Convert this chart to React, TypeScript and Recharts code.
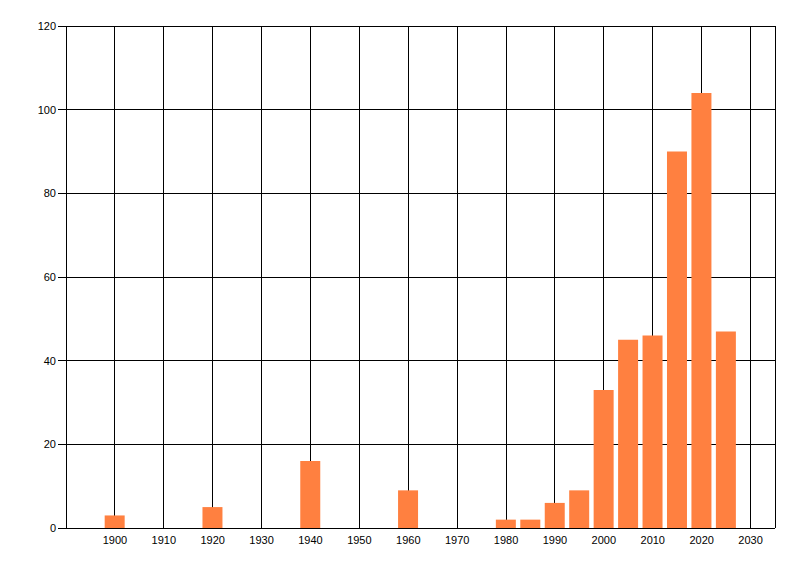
import React from "react";
import { BarChart, Bar, XAxis, YAxis, CartesianGrid } from "recharts";

const years = [1900, 1920, 1940, 1960, 1980, 1985, 1990, 1995, 2000, 2005, 2010, 2015, 2020, 2025];
const counts = [3, 5, 16, 9, 2, 2, 6, 9, 33, 45, 46, 90, 104, 47];
const xTicks = [1900, 1910, 1920, 1930, 1940, 1950, 1960, 1970, 1980, 1990, 2000, 2010, 2020, 2030];
const yTicks = [0, 20, 40, 60, 80, 100, 120];

const data = years.map((y, i) => ({ year: y, count: counts[i] }));

const tickStyle = { fontFamily: "'Liberation Sans', Arial, sans-serif", fontSize: 11, fill: "#000" };

export default function App() {
  return (
    <div style={{ position: "absolute", left: 0, top: 0, width: 800, height: 576, background: "#fff" }}>
      <BarChart
        width={800}
        height={576}
        data={data}
        margin={{ top: 26, right: 25, bottom: 18, left: 0 }}
      >
        <CartesianGrid stroke="#000" strokeWidth={1} shapeRendering="crispEdges" />
        <XAxis
          dataKey="year"
          type="number"
          domain={[1890, 2035]}
          ticks={xTicks}
          interval={0}
          allowDataOverflow
          height={30}
          tickLine={false}
          tickSize={6}
          tickMargin={2}
          axisLine={{ stroke: "#000", shapeRendering: "crispEdges" }}
          tick={tickStyle}
        />
        <YAxis
          type="number"
          domain={[0, 120]}
          ticks={yTicks}
          interval={0}
          width={66}
          tickSize={8}
          tickMargin={2}
          tickLine={{ stroke: "#000", shapeRendering: "crispEdges" }}
          axisLine={{ stroke: "#000", shapeRendering: "crispEdges" }}
          tick={tickStyle}
        />
        <Bar dataKey="count" fill="#FF8040" barSize={20} isAnimationActive={false} />
      </BarChart>
    </div>
  );
}
